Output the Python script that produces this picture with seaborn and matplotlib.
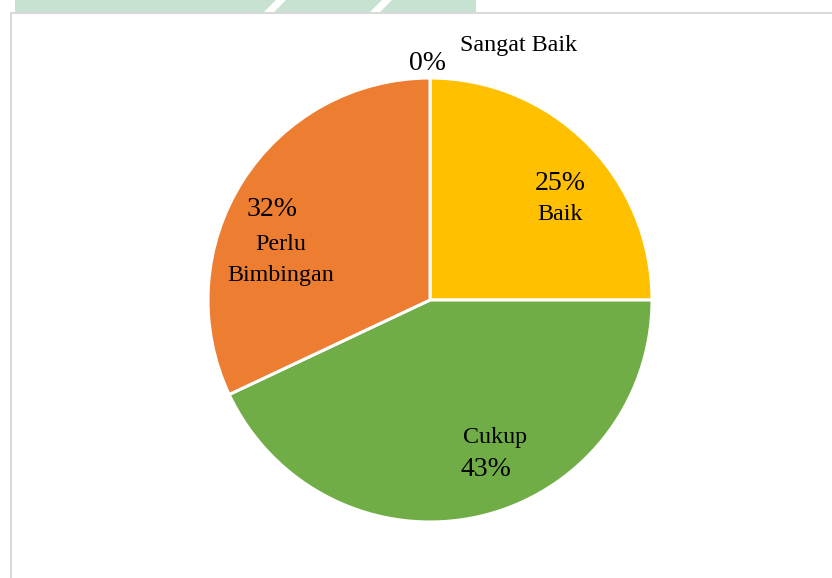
import matplotlib.pyplot as plt
import seaborn as sns
import numpy as np
from matplotlib.patches import Rectangle, Polygon
from matplotlib.lines import Line2D

sns.set_theme(style="white")
plt.rcParams['font.family'] = ['Liberation Serif', 'DejaVu Serif']

categories = ['Sangat Baik', 'Baik', 'Cukup', 'Perlu Bimbingan']
values = [0, 25, 43, 32]
pct_labels = ['0%', '25%', '43%', '32%']
colors = ['#4472C4', '#FFC000', '#70AD47', '#ED7D31']

W, H = 832, 578
fig = plt.figure(figsize=(W / 100, H / 100), dpi=100)

# faint watermark strip at the top and the frame of the chart area
fig.patches.append(Rectangle((15 / W, 1 - 12 / H), 461 / W, 12 / H, transform=fig.transFigure,
                             facecolor='#C8E2D2', edgecolor='none'))
for x0 in (264, 370):
    gap = [((x0 + 12) / W, 1), ((x0 + 22) / W, 1), ((x0 + 10) / W, 1 - 12 / H), (x0 / W, 1 - 12 / H)]
    fig.patches.append(Polygon(gap, closed=True, transform=fig.transFigure,
                               facecolor='white', edgecolor='none'))
fig.lines.append(Line2D([11 / W, 1], [1 - 12.5 / H, 1 - 12.5 / H], transform=fig.transFigure,
                        color='#D9D9D9', lw=1.5))
fig.lines.append(Line2D([11 / W, 11 / W], [0, 1 - 12.5 / H], transform=fig.transFigure,
                        color='#D9D9D9', lw=1.5))

ax = fig.add_axes([0, 0, 1, 1])
ax.set_facecolor('none')

R = 222
cx, cy = 430, 300
ax.pie(values, colors=colors, startangle=90, counterclock=False, radius=1,
       wedgeprops=dict(edgecolor='white', linewidth=2.2))
ax.set_xlim(-cx / R, (W - cx) / R)
ax.set_ylim(-(H - cy) / R, cy / R)
ax.set_aspect('equal')


def px(x, y):
    return (x - cx) / R, (cy - y) / R


pct_pos = [(427, 63), (560, 183), (486, 470), (272, 210)]
for p, t in zip(pct_pos, pct_labels):
    ax.text(*px(*p), t, ha='center', va='center', fontsize=20, color='black')

cat_pos = [(519, 46), (560, 215), (495, 437), (281, 245), (281, 276)]
cat_text = ['Sangat Baik', 'Baik', 'Cukup', 'Perlu', 'Bimbingan']
for p, t in zip(cat_pos, cat_text):
    ax.text(*px(*p), t, ha='center', va='center', fontsize=17.3, color='black')

ax.axis('off')
fig.savefig('out.png', dpi=100)
